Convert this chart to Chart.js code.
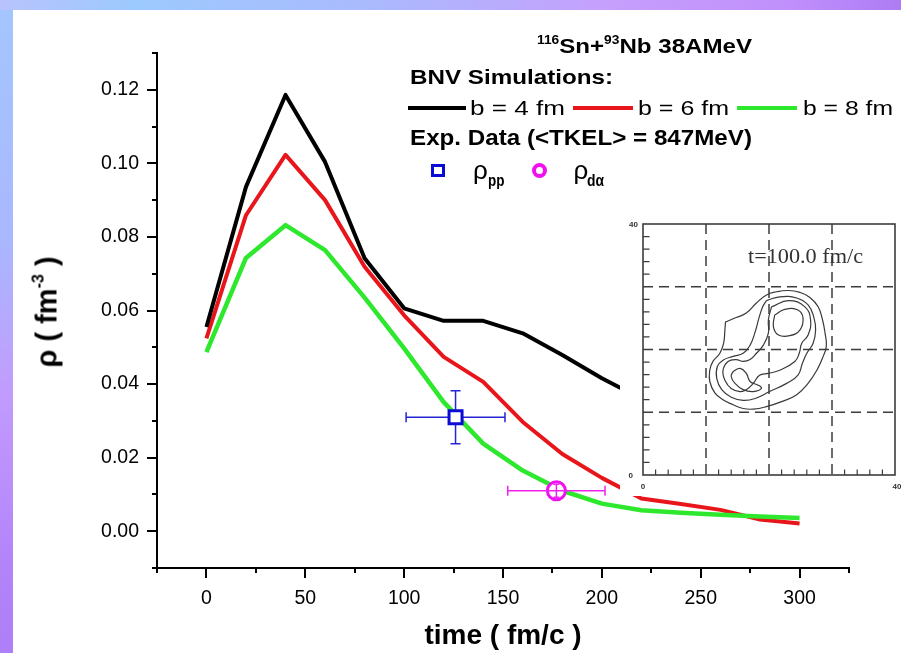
<!DOCTYPE html>
<html>
<head>
<meta charset="utf-8">
<script src="https://cdn.jsdelivr.net/npm/chart.js@4.4.1/dist/chart.umd.min.js"></script>
<style>
  html, body { margin: 0; padding: 0; }
  body {
    width: 901px; height: 653px; position: relative; overflow: hidden;
    background: linear-gradient(to right, #b8c3fd 0%, #9ccafe 15%, #abb9fd 42%, #c69ffd 68%, #c08ffb 88%, #ad7cf5 100%);
    font-family: "Liberation Sans", Arial, sans-serif;
  }
  #leftband { position: absolute; left: 0; top: 10px; width: 13px; height: 643px;
    background: linear-gradient(to bottom, #a4c6ff 0%, #a9b8ff 35%, #c19bfe 60%, #b385fa 85%, #ad7ff8 100%); }
  #panel { position: absolute; left: 13px; top: 10px; width: 888px; height: 643px; background: #fff; }
  #main { position: absolute; left: 0; top: 0; }
  #inset { position: absolute; left: 620px; top: 212px; }
  .t { position: absolute; white-space: nowrap; color: #000; line-height: 1; transform-origin: 0 0; }
  .b { font-weight: bold; }
  .sup { font-size: 12px; position: relative; top: -9px; }
  .sw { position: absolute; height: 4px; }
  #ytitle { position: absolute; left: 47px; top: 312px; white-space: nowrap; font-weight: bold;
    font-size: 29px; line-height: 1; transform: translate(-50%, -50%) rotate(-90deg); }
  #ytitle .ex { font-size: 16px; position: relative; top: -13px; }
</style>
</head>
<body>
<div id="leftband"></div>
<div id="panel"></div>
<canvas id="main" width="901" height="653"></canvas>
<canvas id="inset" width="281" height="284"></canvas>

<div class="t b" data-x="537" data-base="53" data-w="215" style="font-size:21px"><span class="sup">116</span>Sn+<span class="sup">93</span>Nb 38AMeV</div>
<div class="t b" data-x="410" data-base="83.5" data-w="203" style="font-size:21px">BNV Simulations:</div>

<div class="sw" style="left:408px;top:105.5px;width:58px;background:#000"></div>
<div class="t" data-x="470" data-base="115" data-w="95" style="font-size:21px">b = 4 fm</div>
<div class="sw" style="left:573px;top:105.5px;width:60px;background:#e8161b"></div>
<div class="t" data-x="638" data-base="115" data-w="91" style="font-size:21px">b = 6 fm</div>
<div class="sw" style="left:737px;top:105.5px;width:60px;background:#2ee82e"></div>
<div class="t" data-x="803" data-base="115" data-w="90" style="font-size:21px">b = 8 fm</div>

<div class="t b" data-x="410" data-base="146" data-w="342" style="font-size:22px">Exp. Data (&lt;TKEL&gt; = 847MeV)</div>

<div style="position:absolute;left:431px;top:163.5px;width:14px;height:13px;box-sizing:border-box;border:3.5px solid #0b0bd6"></div>
<div class="t" data-x="473" data-base="179" style="font-size:26px">ρ</div>
<div class="t b" data-x="487.5" data-base="186.5" data-w="16.5" style="font-size:17px">pp</div>
<div style="position:absolute;left:531.5px;top:163px;width:15px;height:15px;box-sizing:border-box;border:4px solid #f010f0;border-radius:50%"></div>
<div class="t" data-x="573.5" data-base="179" style="font-size:26px">ρ</div>
<div class="t b" data-x="587" data-base="186.5" data-w="17" style="font-size:16px">dα</div>

<div id="ytitle">ρ ( fm<span class="ex">-3</span> )</div>

<script>
// ---- simulated density vs time (BNV), one array per impact parameter ----
const timesB4 = [0, 20, 40, 60, 80, 100, 120, 140, 160, 180, 200, 220];
const rhoB4   = [0.0555, 0.0936, 0.1186, 0.1004, 0.0742, 0.0606, 0.0572, 0.0572, 0.0538, 0.0479, 0.0416, 0.0360];

const timesB68 = [0, 20, 40, 60, 80, 100, 120, 140, 160, 180, 200, 220, 240, 260, 280, 300];
const rhoB6    = [0.0524, 0.0859, 0.1023, 0.0900, 0.0719, 0.0587, 0.0474, 0.0406, 0.0297, 0.0210, 0.0145, 0.0089, 0.0074, 0.0058, 0.0032, 0.0021];
const rhoB8    = [0.0487, 0.0743, 0.0832, 0.0764, 0.0635, 0.0497, 0.0351, 0.0238, 0.0165, 0.0110, 0.0075, 0.0057, 0.0050, 0.0045, 0.0040, 0.0036];

// ---- experimental points with errors ----
const ppTime = [126],   ppRho = [0.031],  ppTimeErr = [25],   ppRhoErr = [0.0072];
const daTime = [177],   daRho = [0.011],  daTimeErr = [24.6], daRhoErr = [0.0018];

// ---- axes ----
const xMin = -25, xMax = 325, xStep = 25, xLabelEvery = 50;
const yMin = -0.01, yMax = 0.13, yStep = 0.01;

// ---- inset: density contours at t = 100 fm/c (x, y in fm) ----
const insetRange = [0, 40];
const insetGrid = [10, 20, 30];
const contourOuter = [[13.1,24.4],[14.8,25.1],[16.4,25.8],[18.0,27.4],[19.6,28.7],[21.2,29.2],[23.1,29.4],[24.9,29.1],[26.5,28.3],[27.8,26.8],[28.5,24.7],[28.9,22.6],[29.1,20.5],[28.6,18.9],[27.6,16.7],[26.2,14.6],[24.4,12.8],[22.0,11.7],[19.6,10.9],[17.5,10.5],[15.9,10.6],[14.3,11.2],[12.7,12.0],[11.4,13.1],[10.6,14.9],[10.6,16.7],[11.1,18.1],[12.2,19.4],[12.8,21.0],[13.0,23.1]];
const contourSecond = [[19.6,27.8],[21.7,28.4],[24.4,28.2],[26.2,27.1],[27.1,25.2],[27.4,23.1],[27.0,21.0],[26.0,19.4],[25.3,17.8],[24.6,15.9],[22.8,14.6],[20.1,13.3],[17.8,12.2],[15.9,11.9],[14.0,12.4],[12.5,13.6],[11.7,15.4],[11.8,17.3],[12.7,18.3],[14.3,18.9],[15.9,19.4],[17.0,20.7],[17.8,22.8],[18.4,25.0],[19.0,26.8]];
const contourThird = [[20.4,26.8],[23.1,27.8],[25.7,26.8],[26.6,24.7],[26.2,22.3],[25.2,21.0],[24.8,19.4],[24.1,18.1],[21.7,16.7],[19.9,16.2],[18.5,15.9],[17.5,14.6],[16.4,13.6],[15.4,13.3],[14.0,13.8],[13.0,15.1],[12.7,16.7],[13.5,18.1],[14.8,18.4],[15.9,18.1],[17.0,18.4],[18.0,19.4],[19.1,20.7],[19.9,22.6],[19.9,24.7]];
const contourUpper = [[20.9,25.5],[22.5,26.4],[24.6,26.3],[25.4,25.0],[24.9,23.1],[23.3,22.2],[21.5,22.3],[20.7,23.6]];
const contourLower = [[14.3,16.5],[15.4,17.0],[16.4,16.2],[17.0,14.9],[18.3,14.3],[18.8,13.8],[17.5,13.3],[15.9,13.6],[14.6,14.6],[14.0,15.7]];

Chart.defaults.font.family = "'Liberation Sans', Arial, sans-serif";
Chart.defaults.color = '#000';

const pairs = (xs, ys) => xs.map((x, i) => ({ x, y: ys[i] }));

// error bars drawn with the chart's own scales
function drawErrors(chart, ds) {
  const { ctx, scales: { x: xs, y: ys } } = chart;
  ctx.save();
  ctx.strokeStyle = ds.errColor;
  ctx.lineWidth = 1.5;
  ds.data.forEach((p, i) => {
    const cx = xs.getPixelForValue(p.x), cy = ys.getPixelForValue(p.y);
    const xl = xs.getPixelForValue(p.x - ds.errX[i]), xr = xs.getPixelForValue(p.x + ds.errX[i]);
    const yt = ys.getPixelForValue(p.y + ds.errY[i]), yb = ys.getPixelForValue(p.y - ds.errY[i]);
    const c = ds.capX, cy2 = ds.capY;
    ctx.beginPath();
    ctx.moveTo(xl, cy); ctx.lineTo(xr, cy);
    ctx.moveTo(xl, cy - c); ctx.lineTo(xl, cy + c);
    ctx.moveTo(xr, cy - c); ctx.lineTo(xr, cy + c);
    ctx.moveTo(cx, yt); ctx.lineTo(cx, yb);
    ctx.moveTo(cx - cy2, yt); ctx.lineTo(cx + cy2, yt);
    ctx.moveTo(cx - cy2, yb); ctx.lineTo(cx + cy2, yb);
    ctx.stroke();
  });
  ctx.restore();
}

const errorBars = {
  id: 'errorBars',
  beforeDatasetDraw(chart, args) {
    const ds = chart.data.datasets[args.index];
    if (ds.errX && !ds.errOver) drawErrors(chart, ds);
  },
  afterDatasetDraw(chart, args) {
    const ds = chart.data.datasets[args.index];
    if (ds.errX && ds.errOver) drawErrors(chart, ds);
  }
};

// outward major / minor tick marks
const tickMarks = {
  id: 'tickMarks',
  afterDraw(chart) {
    const { ctx, chartArea: a, scales: { x: xs, y: ys } } = chart;
    ctx.save();
    ctx.strokeStyle = '#000';
    ctx.lineWidth = 2;
    ctx.beginPath();
    ys.ticks.forEach(t => {
      const py = Math.round(ys.getPixelForValue(t.value));
      const major = Math.round(t.value * 100) % 2 === 0;
      ctx.moveTo(a.left, py); ctx.lineTo(a.left - (major ? 10 : 5), py);
    });
    xs.ticks.forEach(t => {
      const px = Math.round(xs.getPixelForValue(t.value));
      const major = Math.round(t.value) % xLabelEvery === 0;
      ctx.moveTo(px, a.bottom); ctx.lineTo(px, a.bottom + (major ? 10 : 5));
    });
    ctx.stroke();
    ctx.restore();
  }
};

new Chart(document.getElementById('main'), {
  type: 'scatter',
  data: {
    datasets: [
      { label: 'ρpp', data: pairs(ppTime, ppRho), pointStyle: 'rect', pointRadius: 9.2, pointHoverRadius: 9.2,
        borderColor: '#0b0bd6', backgroundColor: '#ffffff', borderWidth: 3, showLine: false,
        errX: ppTimeErr, errY: ppRhoErr, errColor: '#2424d0', capX: 5, capY: 5, errOver: false },
      { label: 'ρdα', data: pairs(daTime, daRho), pointStyle: 'circle', pointRadius: 9, pointHoverRadius: 9,
        borderColor: '#f010f0', backgroundColor: '#ffffff', borderWidth: 3, showLine: false,
        errX: daTimeErr, errY: daRhoErr, errColor: '#f020f0', capX: 5, capY: 3, errOver: true },
      { label: 'b = 4 fm', data: pairs(timesB4, rhoB4), showLine: true, borderColor: '#000000', borderWidth: 4,
        pointRadius: 0, borderJoinStyle: 'round', tension: 0 },
      { label: 'b = 8 fm', data: pairs(timesB68, rhoB8), showLine: true, borderColor: '#2ee82e', borderWidth: 4.5,
        pointRadius: 0, borderJoinStyle: 'round', tension: 0 },
      { label: 'b = 6 fm', data: pairs(timesB68, rhoB6), showLine: true, borderColor: '#e8161b', borderWidth: 4,
        pointRadius: 0, borderJoinStyle: 'round', tension: 0 }
    ]
  },
  options: {
    responsive: false,
    animation: false,
    events: [],
    layout: { padding: { left: 0, top: 53, right: 52, bottom: 0 } },
    plugins: { legend: { display: false }, tooltip: { enabled: false } },
    scales: {
      x: {
        type: 'linear', min: xMin, max: xMax,
        grid: { display: false, drawTicks: false },
        border: { display: true, color: '#000', width: 2 },
        ticks: {
          stepSize: xStep, autoSkip: false, maxRotation: 0, padding: 18.5,
          font: { size: 19.5 }, color: '#000',
          callback: v => (Math.round(v) % xLabelEvery === 0 && v >= 0 && v <= 300) ? String(Math.round(v)) : ''
        },
        title: { display: true, text: 'time ( fm/c )', color: '#000',
          font: { size: 28, weight: 'bold' }, padding: { top: 0, bottom: 0 } },
        afterFit: s => { s.height = 85; }
      },
      y: {
        type: 'linear', min: yMin, max: yMax,
        grid: { display: false, drawTicks: false },
        border: { display: true, color: '#000', width: 2 },
        ticks: {
          stepSize: yStep, autoSkip: false, padding: 18,
          font: { size: 19.5 }, color: '#000',
          callback: v => { const k = Math.round(v * 100); return (k % 2 === 0 && k >= 0 && k <= 12) ? (k / 100).toFixed(2) : ''; }
        },
        afterFit: s => { s.width = 157; }
      }
    }
  },
  plugins: [errorBars, tickMarks]
});

// inset frame, dashed grid, inner ticks and labels
const insetFrame = {
  id: 'insetFrame',
  beforeDraw(chart) {
    const { ctx, width, height } = chart;
    ctx.save();
    ctx.fillStyle = '#ffffff';
    ctx.fillRect(0, 0, width, height);
    ctx.restore();
  },
  beforeDatasetsDraw(chart) {
    const { ctx, chartArea: a, scales: { x: xs, y: ys } } = chart;
    ctx.save();
    ctx.strokeStyle = '#3c3c3c';
    ctx.lineWidth = 1.5;
    ctx.setLineDash([10, 6]);
    ctx.beginPath();
    insetGrid.forEach(v => {
      const px = xs.getPixelForValue(v), py = ys.getPixelForValue(v);
      ctx.moveTo(px, a.top); ctx.lineTo(px, a.bottom);
      ctx.moveTo(a.left, py); ctx.lineTo(a.right, py);
    });
    ctx.stroke();
    ctx.setLineDash([]);
    ctx.lineWidth = 1.2;
    ctx.beginPath();
    for (let v = insetRange[0] + 2; v < insetRange[1]; v += 2) {
      if (v % 10 === 0) continue;
      const px = xs.getPixelForValue(v), py = ys.getPixelForValue(v);
      ctx.moveTo(px, a.bottom); ctx.lineTo(px, a.bottom - 5.5);
      ctx.moveTo(a.left, py); ctx.lineTo(a.left + 6.5, py);
    }
    ctx.stroke();
    ctx.lineWidth = 1.6;
    ctx.strokeRect(a.left, a.top, a.right - a.left, a.bottom - a.top);
    ctx.fillStyle = '#333';
    ctx.font = "bold 8px 'Liberation Sans', Arial, sans-serif";
    ctx.textBaseline = 'middle';
    ctx.textAlign = 'right';
    ctx.fillText(String(insetRange[1]), a.left - 5, ys.getPixelForValue(insetRange[1]) + 1);
    ctx.fillText(String(insetRange[0]), a.left - 10, ys.getPixelForValue(insetRange[0]) + 1);
    ctx.textAlign = 'center';
    ctx.fillText(String(insetRange[0]), xs.getPixelForValue(insetRange[0]), a.bottom + 12);
    ctx.fillText(String(insetRange[1]), xs.getPixelForValue(insetRange[1]) + 2, a.bottom + 12);
    ctx.restore();
  },
  afterDraw(chart) {
    const { ctx } = chart;
    ctx.save();
    ctx.fillStyle = '#333';
    ctx.font = "21px 'Liberation Serif', 'Times New Roman', serif";
    ctx.textBaseline = 'middle';
    const txt = 't=100.0 fm/c';
    const w = ctx.measureText(txt).width;
    ctx.translate(128, 45);
    ctx.scale(115 / w, 1);
    ctx.fillText(txt, 0, 0);
    ctx.restore();
  }
};

const closeLoop = c => c.concat([c[0]]).map(([x, y]) => ({ x, y }));
const contours = [contourOuter, contourSecond, contourThird, contourUpper, contourLower];

new Chart(document.getElementById('inset'), {
  type: 'scatter',
  data: {
    datasets: contours.map(c => ({
      data: closeLoop(c), showLine: true, borderColor: '#3a3a3a', borderWidth: 1.2,
      pointRadius: 0, tension: 0.45, fill: false
    }))
  },
  options: {
    responsive: false,
    animation: false,
    events: [],
    layout: { padding: { left: 23, top: 12, right: 6, bottom: 21 } },
    plugins: { legend: { display: false }, tooltip: { enabled: false } },
    scales: {
      x: { type: 'linear', min: insetRange[0], max: insetRange[1], display: false },
      y: { type: 'linear', min: insetRange[0], max: insetRange[1], display: false }
    }
  },
  plugins: [insetFrame]
});

// place legend text on its baseline and stretch to width
document.querySelectorAll('.t').forEach(el => {
  const fs = parseFloat(getComputedStyle(el).fontSize);
  el.style.left = el.dataset.x + 'px';
  el.style.top = (parseFloat(el.dataset.base) - 0.8465 * fs) + 'px';
  if (el.dataset.w) {
    const w = el.getBoundingClientRect().width;
    el.style.transform = 'scaleX(' + (parseFloat(el.dataset.w) / w) + ')';
  }
});
</script>
</body>
</html>
